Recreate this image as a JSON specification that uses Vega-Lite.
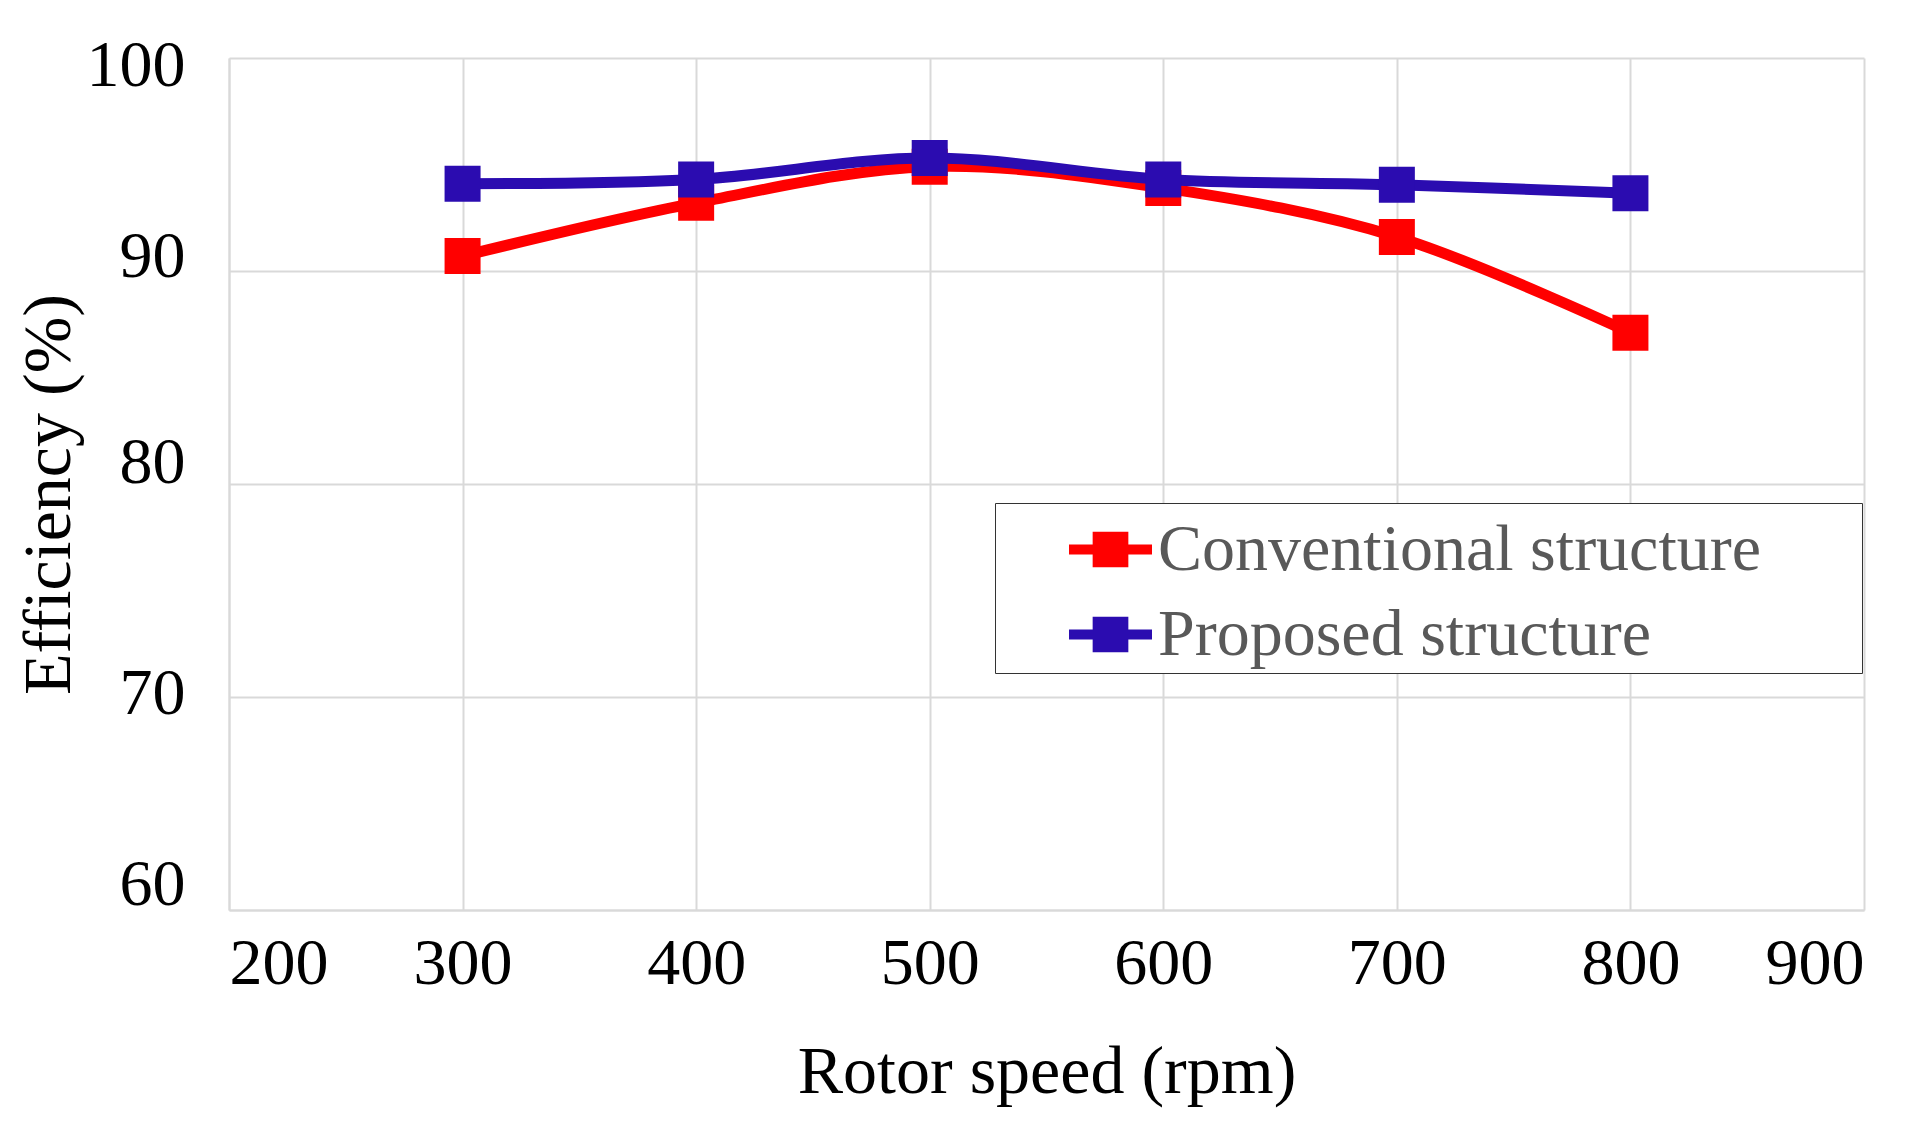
{
  "$schema": "https://vega.github.io/schema/vega-lite/v6.json",
  "width": 1635,
  "height": 852,
  "autosize": {"type": "none"},
  "padding": {"left": 229, "top": 58, "right": 65, "bottom": 221},
  "background": "white",
  "data": {
    "values": [
      {"speed": 300, "eff": 90.7, "series": "Conventional structure"},
      {"speed": 400, "eff": 93.2, "series": "Conventional structure"},
      {"speed": 500, "eff": 94.9, "series": "Conventional structure"},
      {"speed": 600, "eff": 93.9, "series": "Conventional structure"},
      {"speed": 700, "eff": 91.6, "series": "Conventional structure"},
      {"speed": 800, "eff": 87.1, "series": "Conventional structure"},
      {"speed": 300, "eff": 94.1, "series": "Proposed structure"},
      {"speed": 400, "eff": 94.3, "series": "Proposed structure"},
      {"speed": 500, "eff": 95.3, "series": "Proposed structure"},
      {"speed": 600, "eff": 94.3, "series": "Proposed structure"},
      {"speed": 700, "eff": 94.05, "series": "Proposed structure"},
      {"speed": 800, "eff": 93.65, "series": "Proposed structure"}
    ]
  },
  "encoding": {
    "x": {
      "field": "speed", "type": "quantitative",
      "scale": {"domain": [200, 900], "nice": false, "zero": false},
      "axis": {"values": [200, 300, 400, 500, 600, 700, 800, 900], "title": "Rotor speed (rpm)", "labelPadding": 21, "titlePadding": 42}
    },
    "y": {
      "field": "eff", "type": "quantitative",
      "scale": {"domain": [60, 100], "nice": false, "zero": false},
      "axis": {
        "values": [60, 70, 80, 90, 100], "title": "Efficiency (%)", "labelPadding": 44,
        "titleX": -180, "titleY": 436, "titleBaseline": "middle", "titleAlign": "center", "titleAngle": -90,
        "labelOffset": {"condition": [
          {"test": "datum.value === 100", "value": 7},
          {"test": "datum.value === 90", "value": -15},
          {"test": "datum.value === 80", "value": -22},
          {"test": "datum.value === 70", "value": -4}
        ], "value": -26}
      }
    },
    "color": {
      "field": "series", "type": "nominal",
      "scale": {"domain": ["Conventional structure", "Proposed structure"], "range": ["#FF0000", "#2B0CB0"]},
      "legend": {
        "orient": "none", "legendX": 766, "legendY": 445,
        "title": null, "padding": 5, "symbolOffset": 69, "labelOffset": 6,
        "symbolType": "M-1,-0.12L1,-0.12L1,0.12L-1,0.12Z M-0.43,-0.43L0.43,-0.43L0.43,0.43L-0.43,0.43Z",
        "symbolSize": 6889, "symbolStrokeWidth": 0,
        "labelFont": "Liberation Serif", "labelFontSize": 66, "labelColor": "#595959", "labelLimit": 2000,
        "strokeColor": "#333333", "fillColor": "white", "rowPadding": 10,
        "labelExpr": "datum.label + '\u00a0\u00a0\u00a0\u00a0\u00a0\u2009\u200b'",
        "encode": {"symbols": {"update": {"fill": {"scale": "color", "field": "value"}, "opacity": {"value": 1}}}}
      }
    }
  },
  "layer": [
    {
      "transform": [{"filter": "datum.series === 'Conventional structure'"}],
      "mark": {"type": "line", "interpolate": "catmull-rom", "strokeWidth": 11, "point": {"shape": "square", "size": 1296, "filled": true, "opacity": 1}}
    },
    {
      "transform": [{"filter": "datum.series === 'Proposed structure'"}],
      "mark": {"type": "line", "interpolate": "catmull-rom", "strokeWidth": 11, "point": {"shape": "square", "size": 1296, "filled": true, "opacity": 1}}
    }
  ],
  "config": {
    "view": {"stroke": null},
    "font": "Liberation Serif",
    "axis": {
      "grid": true, "gridColor": "#D9D9D9", "gridWidth": 2,
      "domainColor": "#D9D9D9", "domainWidth": 2, "ticks": false,
      "labelFont": "Liberation Serif", "labelFontSize": 66, "labelColor": "#000000",
      "titleFont": "Liberation Serif", "titleFontSize": 68, "titleFontWeight": "normal", "titleColor": "#000000"
    }
  }
}
